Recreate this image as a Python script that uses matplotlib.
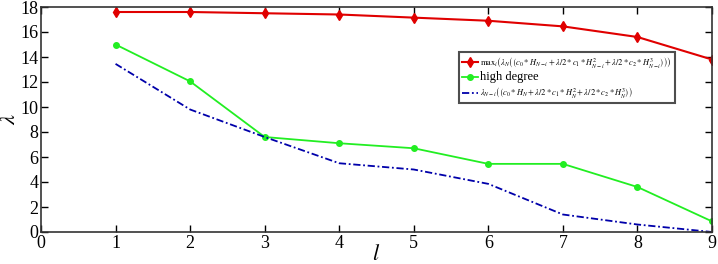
import numpy as np
import matplotlib.pyplot as plt

plt.rcParams['font.family'] = ['Liberation Serif', 'DejaVu Serif']
plt.rcParams['mathtext.fontset'] = 'stix'

l = [1, 2, 3, 4, 5, 6, 7, 8, 9]
max_lambda = [17.6, 17.6, 17.5, 17.4, 17.15, 16.9, 16.45, 15.6, 13.8]
high_degree = [15.0, 12.05, 7.6, 7.1, 6.7, 5.45, 5.45, 3.6, 0.85]
lambda_ni = [13.45, 9.8, 7.6, 5.5, 5.0, 3.85, 1.4, 0.6, 0.0]

lab_red = r'$\mathrm{max}_i\left(\lambda_N\left(\left(c_0*H_{N-i}+\lambda/2*c_1*H_{N-i}^2+\lambda/2*c_2*H_{N-i}^3\right)\right)\right)$'
lab_green = 'high degree'
lab_blue = r'$\lambda_{N-i}\left(\left(c_0*H_N+\lambda/2*c_1*H_N^2+\lambda/2*c_2*H_N^3\right)\right)$'

fig = plt.figure(figsize=(7.18, 2.64), dpi=100)
ax = fig.add_axes([41/718, 32/264, 671/718, 225/264])

ax.plot(l, max_lambda, color='#e00000', marker='d', markersize=5, lw=1.5, label=lab_red)
ax.plot(l, high_degree, color='#22ee22', marker='o', markersize=4, lw=1.3, label=lab_green)
ax.plot(l, lambda_ni, color='#0000aa', linestyle=(0, (4, 1.5, 1, 1.5)), lw=1.3, label=lab_blue)

ax.set_xlim(0, 9)
ax.set_ylim(0, 18)
ax.set_xticks(range(0, 10))
ax.set_yticks(range(0, 19, 2))
ax.tick_params(direction='in', top=True, right=True, labelsize=13, length=5, width=1, pad=2)
for s in ax.spines.values():
    s.set_linewidth(1.2)
    s.set_color('#333333')
ax.set_xlabel(r'$l$', fontsize=16, labelpad=-5)
ax.set_ylabel(r'$\lambda$', fontsize=16, labelpad=0)

leg = ax.legend(loc='upper left', bbox_to_anchor=(0.617, 0.82), fontsize=6.0,
                frameon=True, fancybox=False, edgecolor='#222222',
                handlelength=1.9, borderpad=0.35, labelspacing=0.2, handletextpad=0.3)
leg.get_frame().set_linewidth(1.5)
leg.get_texts()[1].set_fontsize(9)

fig.savefig('out.png', dpi=100)
